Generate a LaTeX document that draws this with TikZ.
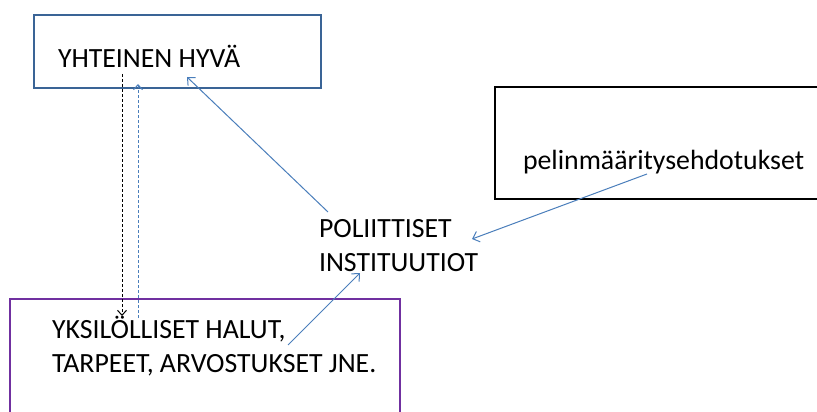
\documentclass[tikz,border=0pt]{standalone}
\usepackage{fontspec}
\setmainfont{Carlito}
\usetikzlibrary{arrows.meta}
\definecolor{boxblue}{HTML}{3A6496}
\definecolor{linkblue}{HTML}{4A7EBB}
\definecolor{boxpurple}{HTML}{7030A0}
\begin{document}
\begin{tikzpicture}[x=1pt,y=-1pt,
  frame/.style={draw,line width=2.4pt,rectangle,inner sep=0pt,outer sep=0pt},
  label/.style={anchor=base west,inner sep=0pt,outer sep=0pt,font=\fontsize{27.8}{34}\selectfont,align=left},
  link/.style={draw=linkblue,line width=1pt,-{Straight Barb[length=6pt,width=11pt]}},
  feed/.style={line width=1pt,dash pattern=on 3pt off 2pt,-{Straight Barb[length=5pt,width=9pt]}}]
\useasboundingbox (0,0) rectangle (817,412);

% boxes
\node[frame,draw=boxblue,minimum width=287pt,minimum height=73pt] (good) at (177.5,51.5) {};
\node[frame,draw=black,minimum width=330pt,minimum height=112pt] (proposals) at (660,143) {};
\node[frame,draw=boxpurple,minimum width=390pt,minimum height=125pt] (wants) at (205,361.5) {};

% texts (multi-line nodes sit on the baseline of their last line)
\node[label] (goodtxt) at (58,68) {YHTEINEN HYVÄ};
\node[label] (proptxt) at (523,169) {pelinmääritysehdotukset};
\node[label] (polit) at (319,271) {POLIITTISET\\INSTITUUTIOT};
\node[label] (wantstxt) at (52,372) {YKSILÖLLISET HALUT,\\TARPEET, ARVOSTUKSET JNE.};

% connector end points
\coordinate (downtop) at (122,74);
\coordinate (downend) at (122,316);
\coordinate (upstart) at (138,318);
\coordinate (upend) at (138,84);
\coordinate (polup) at (328,212);
\coordinate (goodtip) at (187,77);
\coordinate (propstart) at (647,174);
\coordinate (poltip) at (472,239);
\coordinate (wantstart) at (288,345);
\coordinate (poldown) at (360,273);

% connectors
\draw[feed,draw=black] (downtop) -- (downend);
\draw[feed,draw=linkblue] (upstart) -- (upend);
\draw[link] (polup) -- (goodtip);
\draw[link] (propstart) -- (poltip);
\draw[link] (wantstart) -- (poldown);
\end{tikzpicture}
\end{document}
